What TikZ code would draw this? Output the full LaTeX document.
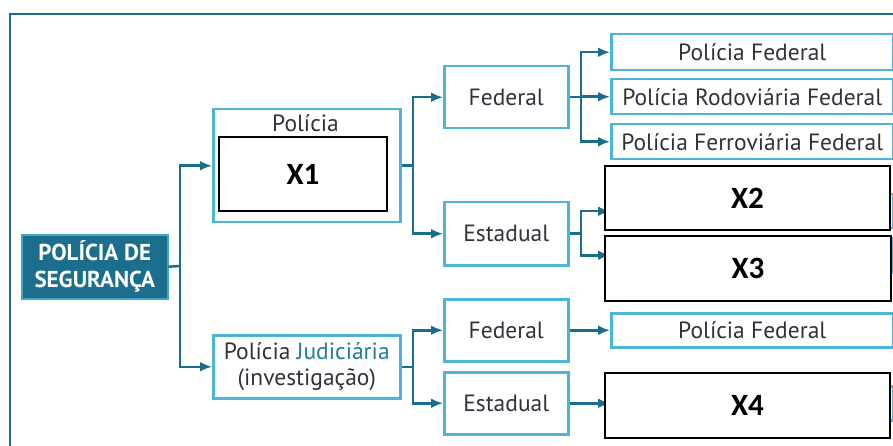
\documentclass[tikz,border=0pt]{standalone}
\usepackage{fontspec}
\setmainfont{PT Sans}
\newfontfamily\xfont{Carlito}
\usetikzlibrary{arrows.meta}
\definecolor{dteal}{HTML}{1A6E8A}
\definecolor{lblue}{HTML}{4DB3D8}
\definecolor{txtc}{HTML}{35303C}
\definecolor{jteal}{HTML}{1E7E9E}
\definecolor{pdsfill}{HTML}{1B6F8C}
\begin{document}
\begin{tikzpicture}[x=1pt,y=-1pt,
  lbox/.style={draw=lblue, line width=2.5pt, fill=white, inner sep=0pt, text=txtc,
    anchor=north west, font=\fontsize{23.5}{26}\selectfont},
  xbox/.style={draw=black, line width=2pt, fill=white, inner sep=0pt, anchor=north west,
    font=\xfont\bfseries\fontsize{31}{32}\selectfont},
  conn/.style={draw=dteal, line width=2.5pt},
  arr/.style={conn, -{Latex[length=12pt,width=10pt]}},
  txt/.style={text=txtc, font=\fontsize{23.5}{26}\selectfont, inner sep=0pt}]
\useasboundingbox (0,0) rectangle (893,446);
\fill[white] (0,0) rectangle (893,446);
\begin{scope}
\clip (0,0) rectangle (893,446);
\draw[dteal, line width=2.5pt] (10,450) -- (10,14) -- (900,14);

% root
\node[draw=lblue!80!dteal, line width=1.5pt, fill=pdsfill, text=white, inner sep=0pt, anchor=north west,
  minimum width=146, minimum height=64, align=center,
  font=\bfseries\fontsize{23}{27}\selectfont] (pds) at (21,234) {POLÍCIA DE\\SEGURANÇA};

% level 1
\node[lbox, minimum width=187, minimum height=113] (pol) at (212,108) {};
\node[txt] (poltxt) at (305.5,123) {Polícia};
\node[xbox, minimum width=168, minimum height=74] (x1) at (218,136) {X1};
\node[lbox, minimum width=187, minimum height=63, align=center] (pj) at (212,334)
  {Polícia \textcolor{jteal}{Judiciária}\\(investigação)};

% level 2
\node[lbox, minimum width=124, minimum height=62] (fed1) at (443,65) {Federal};
\node[lbox, minimum width=124, minimum height=63] (est1) at (443,201) {Estadual};
\node[lbox, minimum width=124, minimum height=62] (fed2) at (443,298) {Federal};
\node[lbox, minimum width=124, minimum height=62] (est2) at (443,371) {Estadual};

% level 3
\node[lbox, minimum width=282, minimum height=36] (pf1) at (610,33) {Polícia Federal};
\node[lbox, minimum width=282, minimum height=35] (rod) at (610,78) {Polícia Rodoviária Federal};
\node[lbox, minimum width=282, minimum height=35] (fer) at (610,123) {Polícia Ferroviária Federal};
\node[lbox, minimum width=282, minimum height=34] (h1) at (610,193) {};
\node[lbox, minimum width=282, minimum height=34] (h2) at (610,237) {};
\node[lbox, minimum width=282, minimum height=34] (pf2) at (610,312) {Polícia Federal};
\node[lbox, minimum width=282, minimum height=34] (h3) at (610,385) {};

% junctions
\coordinate (j1) at (180,266);
\coordinate (j2) at (413,0);
\coordinate (j3) at (581,0);

% connectors
\draw[conn] (pds.east) -- (j1);
\draw[arr] (j1) |- (pol.west);
\draw[arr] (j1) |- (pj.west);
\draw[arr] (pol.east) -- (pol.east -| j2) |- (fed1.west);
\draw[arr] (pol.east -| j2) |- (est1.west);
\draw[arr] (pj.east) -- (pj.east -| j2) |- (fed2.west);
\draw[arr] (pj.east -| j2) |- (est2.west);
\draw[arr] (fed1.east) -- (fed1.east -| j3) |- (pf1.west);
\draw[arr] (fed1.east -| j3) |- (rod.west);
\draw[arr] (fed1.east -| j3) |- (fer.west);
\draw[arr] (est1.east) -- (est1.east -| j3) |- (h1.west);
\draw[arr] (est1.east -| j3) |- (h2.west);
\draw[arr] (fed2.east) -- (fed2.east -| pf2.west);
\draw[arr] (est2.east) -- (est2.east -| h3.west);

% overlay boxes
\node[xbox, minimum width=285, minimum height=64] (x2) at (604,165) {X2};
\node[xbox, minimum width=286, minimum height=65] (x3) at (604,235) {X3};
\node[xbox, minimum width=285, minimum height=65] (x4) at (604,372) {X4};
\end{scope}
\end{tikzpicture}
\end{document}
